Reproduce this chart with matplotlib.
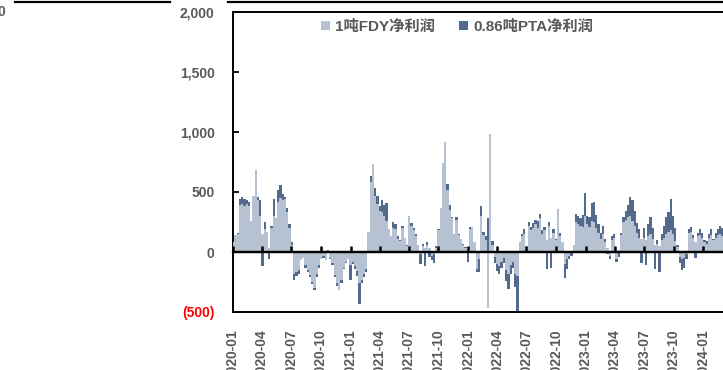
import matplotlib
matplotlib.use('Agg')
import matplotlib.pyplot as plt
import matplotlib.dates as mdates
from matplotlib.patches import Patch
from matplotlib.lines import Line2D
import pandas as pd

plt.rcParams['font.family'] = ['Liberation Sans', 'Noto Sans CJK SC', 'DejaVu Sans']

# ---------------- data (weekly) ----------------
start_date = '2020-01-03'
fdy = [80, 140, 150, 390, 400, 380, 400, 380, 260, 470,
       680, 430, 300, 150, 190, 170, 30, 200, 300, 280,
       420, 450, 430, 440, 330, 200, 60, -180, -170, -150,
       -70, -50, -110, -150, -190, -250, -300, -180, -110, -60,
       -30, -70, 10, -50, -90, -190, -260, -320, -230, -130,
       -80, -55, -110, -80, -120, -160, -260, -230, -180, -140,
       170, 580, 730, 470, 400, 340, 330, 300, 260, 190,
       130, 200, 190, 110, 90, 200, 120, 50, 300, 220,
       180, 130, 60, -20, 50, 30, 60, 30, -30, -20,
       30, 180, 370, 740, 920, 520, 350, 280, 150, 270,
       140, 110, 60, 30, 20, 190, 210, 80, -140, -60,
       300, 140, 100, -470, 980, 60, -40, -100, -120, -80,
       -50, -150, -180, -110, -80, -180, -200, 80, 130, 150,
       50, 220, 180, 200, 230, 200, 280, 150, 180, 100,
       220, 120, 160, 100, 360, 130, 80, -100, -60, -30,
       -10, 60, 250, 230, 220, 210, 300, 230, 210, 260,
       250, 200, 160, 110, 150, 80, 30, -30, 100, 120,
       -60, 20, 140, 250, 270, 290, 300, 260, 220, 160,
       120, 110, 120, 100, 130, 150, 110, 60, 70, 50,
       100, 120, 150, 170, 180, 150, 90, 40, -40, -60,
       -50, -20, 160, 170, 120, 80, 130, 140, 120, 80,
       70, 120, 140, 100, 120, 140, 150, 130, 140]
pta = [90, 130, 160, 445, 455, 440, 430, 420, 230, 440,
       420, 460, 430, -120, 250, 120, -60, 220, 445, 250,
       520, 555, 480, 460, 370, 230, 80, -235, -200, -180,
       -60, -30, -130, -165, -210, -270, -320, -210, -130, -40,
       -50, -40, 20, -60, -110, -210, -280, -310, -260, -140,
       -90, -50, -235, -100, -140, -200, -430, -260, -210, -170,
       160, 630, 600, 530, 465, 380, 430, 390, 410, 150,
       110, 250, 230, 130, 100, 220, 110, 60, 270, 240,
       200, 150, 50, -100, 70, -120, 80, -40, -70, -90,
       50, 190, 330, 650, 820, 570, 390, 290, 140, 290,
       150, 100, 70, 40, -80, 210, 200, 60, -165, -170,
       380, 170, 130, 280, 200, 90, -90, -160, -180, -130,
       -90, -240, -305, -180, -130, -290, -495, 70, 150, 190,
       40, 250, 210, 240, 270, 260, 320, 180, 210, -140,
       250, -130, 190, 110, 300, 160, 40, -220, -140, -60,
       -30, 50, 320, 300, 280, 310, 495, 300, 290, 410,
       420, 310, 230, 160, 220, 110, -20, -55, 130, 150,
       -80, -40, 160, 290, 340, 390, 460, 430, 340, 240,
       190, -90, 200, -110, 230, 290, 200, -140, 100, -165,
       150, 220, 290, 330, 445, 300, 200, 60, -90, -150,
       -130, -55, 190, 210, 140, -50, 160, 190, 160, 100,
       90, 150, 190, 110, 160, 190, 220, 200, 230]
series_names = ['1吨FDY净利润', '0.86吨PTA净利润']
y_ticks = [-500, 0, 500, 1000, 1500, 2000]
y_labels = ['(500)', '0', '500', '1,000', '1,500', '2,000']
x_tick_labels = ['2020-01', '2020-04', '2020-07', '2020-10',
                 '2021-01', '2021-04', '2021-07', '2021-10',
                 '2022-01', '2022-04', '2022-07', '2022-10',
                 '2023-01', '2023-04', '2023-07', '2023-10', '2024-01']

# ---------------- style ----------------
light = '#b6c2d2'
dark = '#546a8c'
gray = '#595959'

W, H = 723, 370
fig = plt.figure(figsize=(W / 100, H / 100), dpi=100)
px0, px1 = 232.6, 732.6
pytop, pybot = 12, 312
ax = fig.add_axes([px0 / W, (H - pybot) / H, (px1 - px0) / W, (pybot - pytop) / H])

dates = pd.date_range(start_date, periods=len(fdy), freq='7D')
ax.bar(dates, pta, width=7, color=dark, linewidth=0, zorder=2)
ax.bar(dates, fdy, width=7, color=light, linewidth=0, zorder=3)

ax.set_xlim(pd.Timestamp('2020-01-01'), pd.Timestamp('2024-04-01'))
ax.set_ylim(-500, 2000)

# y axis
ax.set_yticks(y_ticks)
ax.set_yticklabels(y_labels)
for t, lab in zip(ax.get_yticklabels(), y_labels):
    t.set_fontweight('bold')
    t.set_fontsize(10)
    t.set_color('red' if lab.startswith('(') else gray)
ax.tick_params(axis='y', direction='in', length=4, width=1.3, pad=13)

# x axis (labels at bottom)
qdates = [pd.Timestamp(s + '-01') for s in x_tick_labels]
ax.set_xticks(qdates)
ax.set_xticklabels(x_tick_labels, rotation=90, fontsize=10, fontweight='bold', color=gray)
ax.tick_params(axis='x', length=0, pad=12.5)

for s in ['left', 'bottom', 'top']:
    ax.spines[s].set_linewidth(1.4)
    ax.spines[s].set_color('black')
ax.spines['right'].set_visible(False)

# zero line with tick marks
ax.axhline(0, color='black', lw=1.6, zorder=6)
frac0 = (0 - (-500)) / 2500
sec = ax.secondary_xaxis(frac0)
sec.set_zorder(7)
sec.set_xticks([mdates.date2num(d) for d in qdates])
sec.set_xticklabels([''] * len(qdates))
sec.tick_params(axis='x', direction='in', length=4, width=1.8, color='black',
                labelbottom=False, labeltop=False)
for s in sec.spines.values():
    s.set_linewidth(1.6)
    s.set_color('black')

# legend
handles = [Patch(facecolor=light, edgecolor='none'), Patch(facecolor=dark, edgecolor='none')]
ax.legend(handles, series_names, loc='center', bbox_to_anchor=(0.449, 0.95), ncol=2,
          frameon=False, handlelength=0.6, handleheight=0.6, handletextpad=0.3,
          columnspacing=1.6, labelcolor=gray,
          prop={'family': ['Liberation Sans', 'Noto Sans CJK SC'], 'weight': 'bold', 'size': 11})

# remnants of neighbouring chart
fig.add_artist(Line2D([15 / W, 170 / W], [1 - 1.8 / H] * 2, color='black', lw=1.6))
fig.add_artist(Line2D([228 / W, 1.0], [1 - 1.8 / H] * 2, color='black', lw=1.6))
fig.text(5 / W, 1 - 12 / H, '0', ha='right', va='center', fontsize=10, fontweight='bold', color=gray)

fig.savefig('out.png', dpi=100)
